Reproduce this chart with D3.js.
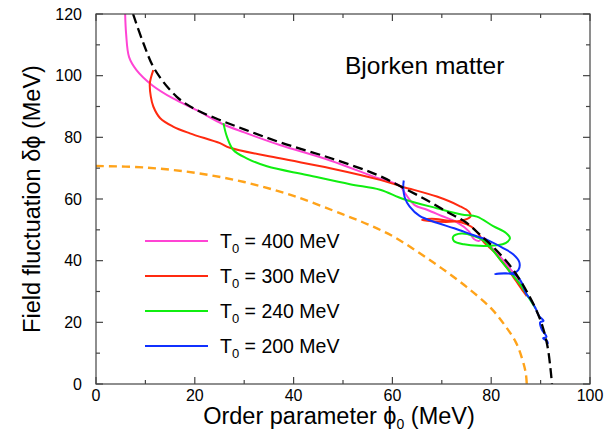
<!DOCTYPE html>
<html>
<head>
<meta charset="utf-8">
<script src="https://cdn.jsdelivr.net/npm/d3@7"></script>
<style>
  html, body { margin: 0; padding: 0; background: #fff; }
  svg { display: block; }
  text { font-family: "Liberation Sans", Arial, Helvetica, sans-serif; fill: #000; }
</style>
</head>
<body>
<svg id="chart" width="614" height="432"></svg>
<script>
// Axis ranges and tick values
const xDomain = [0, 100];
const yDomain = [0, 120];
const xMajorTicks = [0, 20, 40, 60, 80, 100];
const yMajorTicks = [0, 20, 40, 60, 80, 100, 120];
const xMinorTicks = [10, 30, 50, 70, 90];
const yMinorTicks = [10, 30, 50, 70, 90, 110];

// Legend entries
const legendLabels = ["400 MeV", "300 MeV", "240 MeV", "200 MeV"];
const legendColors = ["#ff44d4", "#ff2a10", "#10ee10", "#1030ff"];

// Equilibrium curve (black dashed): [phi0, dphi] in MeV
const equilibrium = [
  [7.5,120],[9.6,110.5],[11.9,102],[16.3,93.2],[20,89.2],[24.8,85.8],[30,82.6],
  [37.2,78.4],[47.4,73.3],[56.8,67.9],[62,63.8],[67,59.6],[71,55.9],[75,52.3],
  [78,48],[80.5,44.3],[84,38],[87.2,30],[89.9,21],[91.3,13],[92,5],[92.3,0]
];

// Reference curve (orange dashed)
const reference = [
  [0,70.7],[10,70.2],[20,68.5],[30,65.5],[40,61],[50,55],[55,51.8],[60,48],
  [65,43],[70,37.5],[75,31.5],[80,24.5],[83,18.5],[85,13.5],[86.3,8],[87,3.5],
  [87.2,0]
];

// Trajectories for different initial temperatures
const traj400 = [
  [5.9,120],[6.1,113.5],[6.7,106],[8.2,101.8],[11.3,97],[15.6,92.6],[20.4,88.8],
  [25.5,84.4],[30,81.6],[37.2,77.5],[47.4,72.5],[56.8,66.9],[61.5,64.3],[62.5,62],
  [64.5,58],[67,56.5],[70,54.5],[73,52.5],[75.5,49.5],[76.5,47],[77.5,46.4],
  [78.5,47.4],[79.5,45.5],[80.5,43.5],[82,41],[83.5,38],[85,35],[86.3,31.5]
];
const traj300 = [
  [11.6,101.8],[10.9,97.5],[11.1,93.2],[11.6,90],[13,86.2],[15.6,83.5],[19,81.3],
  [25.1,78.1],[27.1,76.6],[37.2,73.2],[47.4,70],[57.5,66.2],[62,64],[69,60.8],
  [73.5,57.8],[75.5,55.8],[75.8,54.3],[74.5,53.2],[71.5,52.6],[68,52.8],[66,53.2],
  [68,53.6],[71,53],[74,52.4],[76,51],[77.5,48.5],[78.5,46],[79.5,44.5],[80.5,43],
  [82,40],[83.5,37],[85,33.5],[86.5,30],[87.2,28.5]
];
const traj240 = [
  [25.8,84.6],[26.5,80.2],[27.8,75.9],[30.5,73.2],[34.6,70.6],[42.7,67.8],
  [51.4,64.8],[57.5,63],[62.2,60],[69,57],[74,55],[77.1,54.3],[80.4,51.2],
  [83,49],[83.8,47.3],[83,45.8],[81,45],[77.5,44.8],[74.5,45.3],[72.5,46.3],
  [72.3,47.8],[74,48.8],[76.5,48],[78.5,46.5],[80,44],[81.5,41],[83,38],
  [84.5,35],[86,32],[87,29.5],[88,27],[89,24.5]
];
const traj200 = [
  [62.3,66],[62.2,64],[62.5,60.5],[63.5,57.5],[65.5,54.5],[69,52.3],[72.5,50.5],
  [76,48.5],[79.5,46.5],[82.5,44],[84.5,42],[85.7,39.5],[85.5,37],[84.5,36],
  [82.5,35.8],[80.8,35.7],[83,35.9],[85,35.3],[86.3,32.5],[87,29.5],[88,27.3],
  [89,24.5],[89.7,22],[90.6,20.5],[89.9,20],[90.3,17.5],[91.2,15.3],[90.5,14.8],
  [91.3,14],[91.5,13]
];
const trajectories = [traj400, traj300, traj240, traj200];

const svg = d3.select("#chart");
const margin = { left: 96, right: 24, top: 14, bottom: 48 };
const W = 614, H = 432;

const x = d3.scaleLinear().domain(xDomain).range([margin.left, W - margin.right]);
const y = d3.scaleLinear().domain(yDomain).range([H - margin.bottom, margin.top]);

svg.append("defs").append("clipPath").attr("id", "plotClip")
  .append("rect")
  .attr("x", x(0)).attr("y", y(120))
  .attr("width", x(100) - x(0)).attr("height", y(0) - y(120));

const line = d3.line()
  .x(d => x(d[0])).y(d => y(d[1]))
  .curve(d3.curveCatmullRom.alpha(0.5));

const plot = svg.append("g").attr("clip-path", "url(#plotClip)");

// reference curve
plot.append("path").datum(reference)
  .attr("d", line).attr("fill", "none")
  .attr("stroke", "#ffa31a").attr("stroke-width", 2.4)
  .attr("stroke-dasharray", "8,5");

// temperature trajectories
trajectories.forEach((t, i) => {
  plot.append("path").datum(t)
    .attr("d", line).attr("fill", "none")
    .attr("stroke", legendColors[i]).attr("stroke-width", 2)
    .attr("stroke-linejoin", "round");
});

// equilibrium curve on top
plot.append("path").datum(equilibrium)
  .attr("d", line).attr("fill", "none")
  .attr("stroke", "#000").attr("stroke-width", 2.3)
  .attr("stroke-dasharray", "10,5");

// frame with inward ticks on all four sides
const frameColor = "#444";
const frame = svg.append("g");
frame.append("rect")
  .attr("x", x(0)).attr("y", y(120))
  .attr("width", x(100) - x(0)).attr("height", y(0) - y(120))
  .attr("fill", "none").attr("stroke", frameColor).attr("stroke-width", 1.2);

const majorLen = 7, minorLen = 4;
function xTicks(vals, len) {
  vals.forEach(v => {
    frame.append("line").attr("x1", x(v)).attr("x2", x(v))
      .attr("y1", y(0)).attr("y2", y(0) - len).attr("stroke", frameColor).attr("stroke-width", 1.2);
    frame.append("line").attr("x1", x(v)).attr("x2", x(v))
      .attr("y1", y(120)).attr("y2", y(120) + len).attr("stroke", frameColor).attr("stroke-width", 1.2);
  });
}
function yTicks(vals, len) {
  vals.forEach(v => {
    frame.append("line").attr("y1", y(v)).attr("y2", y(v))
      .attr("x1", x(0)).attr("x2", x(0) + len).attr("stroke", frameColor).attr("stroke-width", 1.2);
    frame.append("line").attr("y1", y(v)).attr("y2", y(v))
      .attr("x1", x(100)).attr("x2", x(100) - len).attr("stroke", frameColor).attr("stroke-width", 1.2);
  });
}
xTicks(xMajorTicks, majorLen); xTicks(xMinorTicks, minorLen);
yTicks(yMajorTicks, majorLen); yTicks(yMinorTicks, minorLen);

// tick labels
svg.append("g").selectAll("text").data(xMajorTicks).join("text")
  .attr("x", d => x(d)).attr("y", y(0) + 17)
  .attr("text-anchor", "middle").attr("font-size", 16)
  .text(d => d);
svg.append("g").selectAll("text").data(yMajorTicks).join("text")
  .attr("x", x(0) - 14).attr("y", d => y(d) + 5.5)
  .attr("text-anchor", "end").attr("font-size", 16)
  .text(d => d);

// axis titles
const xt = svg.append("text")
  .attr("x", (x(0) + x(100)) / 2 - 4).attr("y", 424)
  .attr("text-anchor", "middle").attr("font-size", 23.5);
xt.append("tspan").text("Order parameter ϕ");
xt.append("tspan").attr("font-size", 14).attr("dy", 5).text("0");
xt.append("tspan").attr("dy", -5).text(" (MeV)");

svg.append("text")
  .attr("transform", `translate(40,${(y(0) + y(120)) / 2}) rotate(-90)`)
  .attr("text-anchor", "middle").attr("font-size", 23.5)
  .text("Field fluctuation δϕ (MeV)");

// annotation
svg.append("text").attr("x", 345).attr("y", 74)
  .attr("font-size", 24.5).text("Bjorken matter");

// legend
const legend = svg.append("g");
legendLabels.forEach((lab, i) => {
  const ly = 241 + i * 35;
  legend.append("line").attr("x1", 145).attr("x2", 208)
    .attr("y1", ly).attr("y2", ly)
    .attr("stroke", legendColors[i]).attr("stroke-width", 2);
  const t = legend.append("text").attr("x", 220).attr("y", ly + 7).attr("font-size", 19.5);
  t.append("tspan").text("T");
  t.append("tspan").attr("font-size", 13).attr("dy", 5).text("0");
  t.append("tspan").attr("dy", -5).text(" = " + lab);
});
</script>
</body>
</html>
